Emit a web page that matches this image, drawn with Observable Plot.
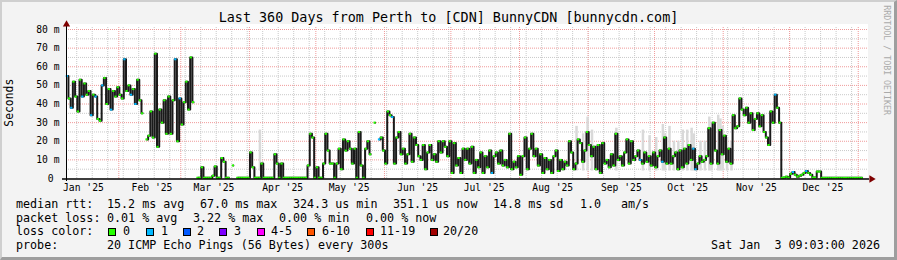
<!DOCTYPE html>
<html>
<head>
<meta charset="utf-8">
<script src="https://cdn.jsdelivr.net/npm/d3@7"></script>
<script src="https://cdn.jsdelivr.net/npm/@observablehq/plot@0.6"></script>
<style>
html,body{margin:0;padding:0;background:#fff;}
#chart{position:relative;width:897px;height:260px;background:#f3f3f3;font-family:"DejaVu Sans Mono",monospace;overflow:hidden;}
#chart .t{position:absolute;white-space:pre;color:#000;line-height:1;}
#canvasbg{position:absolute;left:66px;top:24px;width:802px;height:154px;background:#fff;}
#plotwrap{position:absolute;left:0;top:0;}
#frame{position:absolute;left:0;top:0;width:897px;height:260px;box-sizing:border-box;border-style:solid;border-width:2px 3px 3px 2px;border-color:#cfcfcf #9e9e9e #9e9e9e #cfcfcf;pointer-events:none;}
.sw{position:absolute;width:6px;height:6px;border:1px solid #000;}
</style>
</head>
<body>
<div id="chart">
  <div id="canvasbg"></div>
  <div id="plotwrap"></div>
  <div id="frame"></div>
</div>
<script>
// ---------- data ----------
const title = "Last 360 Days from Perth to [CDN] BunnyCDN [bunnycdn.com]";
const yAxisTitle = "Seconds";
const watermark = "RRDTOOL / TOBI OETIKER";
const monthLabels = ["Jan '25","Feb '25","Mar '25","Apr '25","May '25","Jun '25","Jul '25","Aug '25","Sep '25","Oct '25","Nov '25","Dec '25"];
const yTickValues = [0,10,20,30,40,50,60,70,80];
const yTickLabels = ["0 ","10 m","20 m","30 m","40 m","50 m","60 m","70 m","80 m"];

// daily median RTT in ms, from 2025-01-08 (null = no data)
const medianMs = [
  55,43,38,52,44,36,53,44,51,45,
  47,34,45,44,32,31,50,54,40,48,
  37,47,44,49,45,43,64,47,50,45,
  48,40,53,42,35,null,21,23,36,22,
  67,17,37,30,42,24,44,24,42,64,
  20,43,29,41,52,37,65,41,null,0.4,
  0.4,6,0.4,0.4,0.4,0.4,1.5,6.5,0.4,0.4,
  11,9,0.4,0.4,null,7,null,0.4,0.4,0.4,
  0.4,0.4,0.4,14,6,0.4,0.4,0.4,8,0.4,
  0.4,0.4,0.4,0.4,13,8,0.4,8,0.4,0.4,
  0.4,0.4,0.4,0.4,0.4,0.4,0.4,0.4,0.4,7,
  24,22,0.4,6,0.4,0.4,8,24,15,8,
  8,0.4,8,16,5,21,15,20,16,8,
  16,0.4,25,7,0.4,16,20,13,null,30,
  null,21,22,15,8,36,34,33,8,22,
  25,13,16,8,13,24,9,22,18,12,
  10,18,5,14,18,10,13,9,20,14,
  20,17,12,20,3,19,7,11,3,16,
  10,16,8,17,3,10,6,14,3,12,
  6,15,3,12,14,8,15,7,10,6,
  24,5,9,6,12,2,12,22,5,16,
  24,12,16,7,13,3,11,5,10,3,
  12,15,4,10,5,9,7,20,14,5,
  8,21,19,9,15,25,18,12,17,5,
  18,3,19,8,10,6,13,7,24,10,
  12,7,14,21,8,20,10,12,15,10,
  8,14,9,12,7,14,6,12,15,9,
  22,8,16,8,12,14,5,15,6,16,
  8,18,10,16,5,8,12,9,10,12,
  27,8,30,15,8,26,13,23,9,16,
  8,34,27,28,43,37,34,38,30,35,
  26,32,35,28,34,25,22,18,36,30,
  45,38,30,0.35,0.6,1,0.5,2.5,3.5,2,
  1,1.5,2,3,4,3,2,0.5,0.5,3.7,
  3.7,0.35,0.35,0.35,0.35,0.35,0.35,0.35,0.35,0.35,
  0.35,0.35,0.35,0.35,0.35,0.35,0.35,0.35,0.35,0.35
];
// days whose median had 1 lost ping
const lossOneDays = [0,2,7,11,13,16,20,26,29,31,49,51,141,147,192,259,269,283,284,320,328,334];
// smoke (upper spread of the pings)
const smokeDays = [87,230,233,235,237,248,260,263,266,269,270,272,274,276,278,280,282,283,286,288,290,291,294,295,296,298,300];
const smokeTopMs = [26,28,24,33,26,27,26,23,22,29,24,28,20,20,26,26,27,24,20,20,33,30,34,32,28,22,20];

const lossClasses = ["0","1","2","3","4-5","6-10","11-19","20/20"];
const lossColors = ["#26ff00","#00b8ff","#0059ff","#7e00ff","#ff00ff","#ff5500","#ff0000","#a10000"];
const statsMedian = ["median rtt:","15.2 ms avg","67.0 ms max","324.3 us min","351.1 us now","14.8 ms sd","1.0","am/s"];
const statsLoss = ["packet loss:","0.01 % avg","3.22 % max","0.00 % min","0.00 % now"];
const lossLabel = "loss color:";
const probeLine = ["probe:","20 ICMP Echo Pings (56 Bytes) every 300s"];
const stamp = "Sat Jan  3 09:03:00 2026";

// ---------- chart ----------
const DAY = 864e5;
const t0 = Date.UTC(2025,0,8,18);
const rows = medianMs.map((v,i)=>({date:new Date(t0+i*DAY), v, loss: lossOneDays.includes(i)?1:0}));
const defined = rows.filter(d=>d.v!=null);
const smoke = smokeDays.map((d,i)=>({date:new Date(t0+d*DAY), top:smokeTopMs[i]}));
const xDomain = [new Date(Date.UTC(2025,0,8,9,3)), new Date(Date.UTC(2026,0,3,9,3))];
const weeks = d3.utcMonday.range(xDomain[0], xDomain[1]);
const months = d3.utcMonth.range(xDomain[0], xDomain[1]);
const labelDates = monthLabels.map((_,k)=>new Date(Date.UTC(2025,k,16)));
const majorY = yTickValues.filter(v=>v>0);
const minorY = yTickValues.slice(0,-1).map(v=>v+5);
const grid = "#c9c9c9", mgrid = "#f09a9a";

const plot = Plot.plot({
  width: 897, height: 260,
  marginLeft: 66, marginRight: 34, marginTop: 29, marginBottom: 82,
  style: {background:"transparent", fontFamily:"DejaVu Sans Mono", color:"#000"},
  x: {type:"utc", domain:xDomain, axis:null},
  y: {domain:[0,80], axis:null},
  color: {type:"identity"},
  marks: [
    Plot.ruleY(minorY, {stroke:grid, strokeDasharray:"1,1", insetRight:-5}),
    Plot.ruleX(weeks, {stroke:grid, strokeDasharray:"1,1", insetTop:-2}),
    Plot.ruleX(months, {stroke:mgrid, strokeDasharray:"1,1", insetTop:-2}),
    Plot.ruleY(majorY, {stroke:mgrid, strokeDasharray:"1,1", insetRight:-5}),
    Plot.ruleX(smoke, {x:"date", y1:4, y2:"top", stroke:"#d9d9d9", strokeWidth:2.5}),
    Plot.line(rows, {x:"date", y:"v", curve:"step", stroke:"#1a1a1a", strokeWidth:2}),
    Plot.ruleY(defined, {y:"v", x1:d=>new Date(+d.date-DAY/2), x2:d=>new Date(+d.date+DAY/2), stroke:d=>lossColors[d.loss], strokeWidth:2}),
    Plot.ruleY([0], {stroke:"#000", strokeWidth:1.5, dy:0.5, insetLeft:-4, insetRight:-6}),
    Plot.ruleX([xDomain[0]], {stroke:"#000", strokeWidth:1, insetTop:-5, insetBottom:-3}),
    Plot.dot([0], {frameAnchor:"top-left", dy:-5, symbol:"triangle", r:2.7, fill:"#7f0000", stroke:null}),
    Plot.dot([0], {frameAnchor:"bottom-right", dx:8, dy:0.5, rotate:90, symbol:"triangle", r:2.7, fill:"#7f0000", stroke:null}),
    Plot.text(monthLabels, {x:(d,i)=>labelDates[i], text:d=>d, frameAnchor:"bottom", dy:9, lineAnchor:"middle", fontSize:9.7, fill:"#000"}),
    Plot.text(yTickLabels, {y:(d,i)=>yTickValues[i], text:d=>d.replace(/ /g,"\u00a0"), frameAnchor:"left", dx:-7, textAnchor:"end", lineAnchor:"middle", fontSize:9.7, fill:"#000"})
  ]
});
document.getElementById("plotwrap").appendChild(plot);

// ---------- texts ----------
const chart = document.getElementById("chart");
function addText(str, left, top, size, extra){
  const el = document.createElement("div");
  el.className = "t";
  el.textContent = str;
  el.style.left = left+"px"; el.style.top = top+"px"; el.style.fontSize = size+"px";
  if (extra) Object.assign(el.style, extra);
  chart.insertBefore(el, document.getElementById("frame"));
  return el;
}
addText(title, 0, 11, 13.4, {width:"897px", textAlign:"center"});
addText(yAxisTitle, -20, 97, 11.4, {width:"60px", textAlign:"center", transform:"rotate(-90deg)"});
addText(watermark, 827, 56, 8.3, {width:"120px", textAlign:"center", transform:"rotate(90deg)", color:"#aaaaaa"});

const legFont = 11.7;
const lineTop = [199, 212.5, 226, 240];
[16,107,200,293,393,493,580,621].forEach((x,i)=>addText(statsMedian[i], x, lineTop[0], legFont));
[16,107,193,279,366].forEach((x,i)=>addText(statsLoss[i], x, lineTop[1], legFont));
addText(lossLabel, 16, lineTop[2], legFont);
const swX = [108,146,183,219,257,307,366,430];
const lbX = [123,161,197,234,271,322,380,443];
lossClasses.forEach((c,i)=>{
  const s = document.createElement("div");
  s.className = "sw";
  s.style.left = swX[i]+"px"; s.style.top = "228px"; s.style.background = lossColors[i];
  chart.insertBefore(s, document.getElementById("frame"));
  addText(c, lbX[i], lineTop[2], legFont);
});
addText(probeLine[0], 16, lineTop[3], legFont);
addText(probeLine[1], 107, lineTop[3], legFont);
addText(stamp, 0, lineTop[3], legFont, {width:"880px", textAlign:"right"});
</script>
</body>
</html>
